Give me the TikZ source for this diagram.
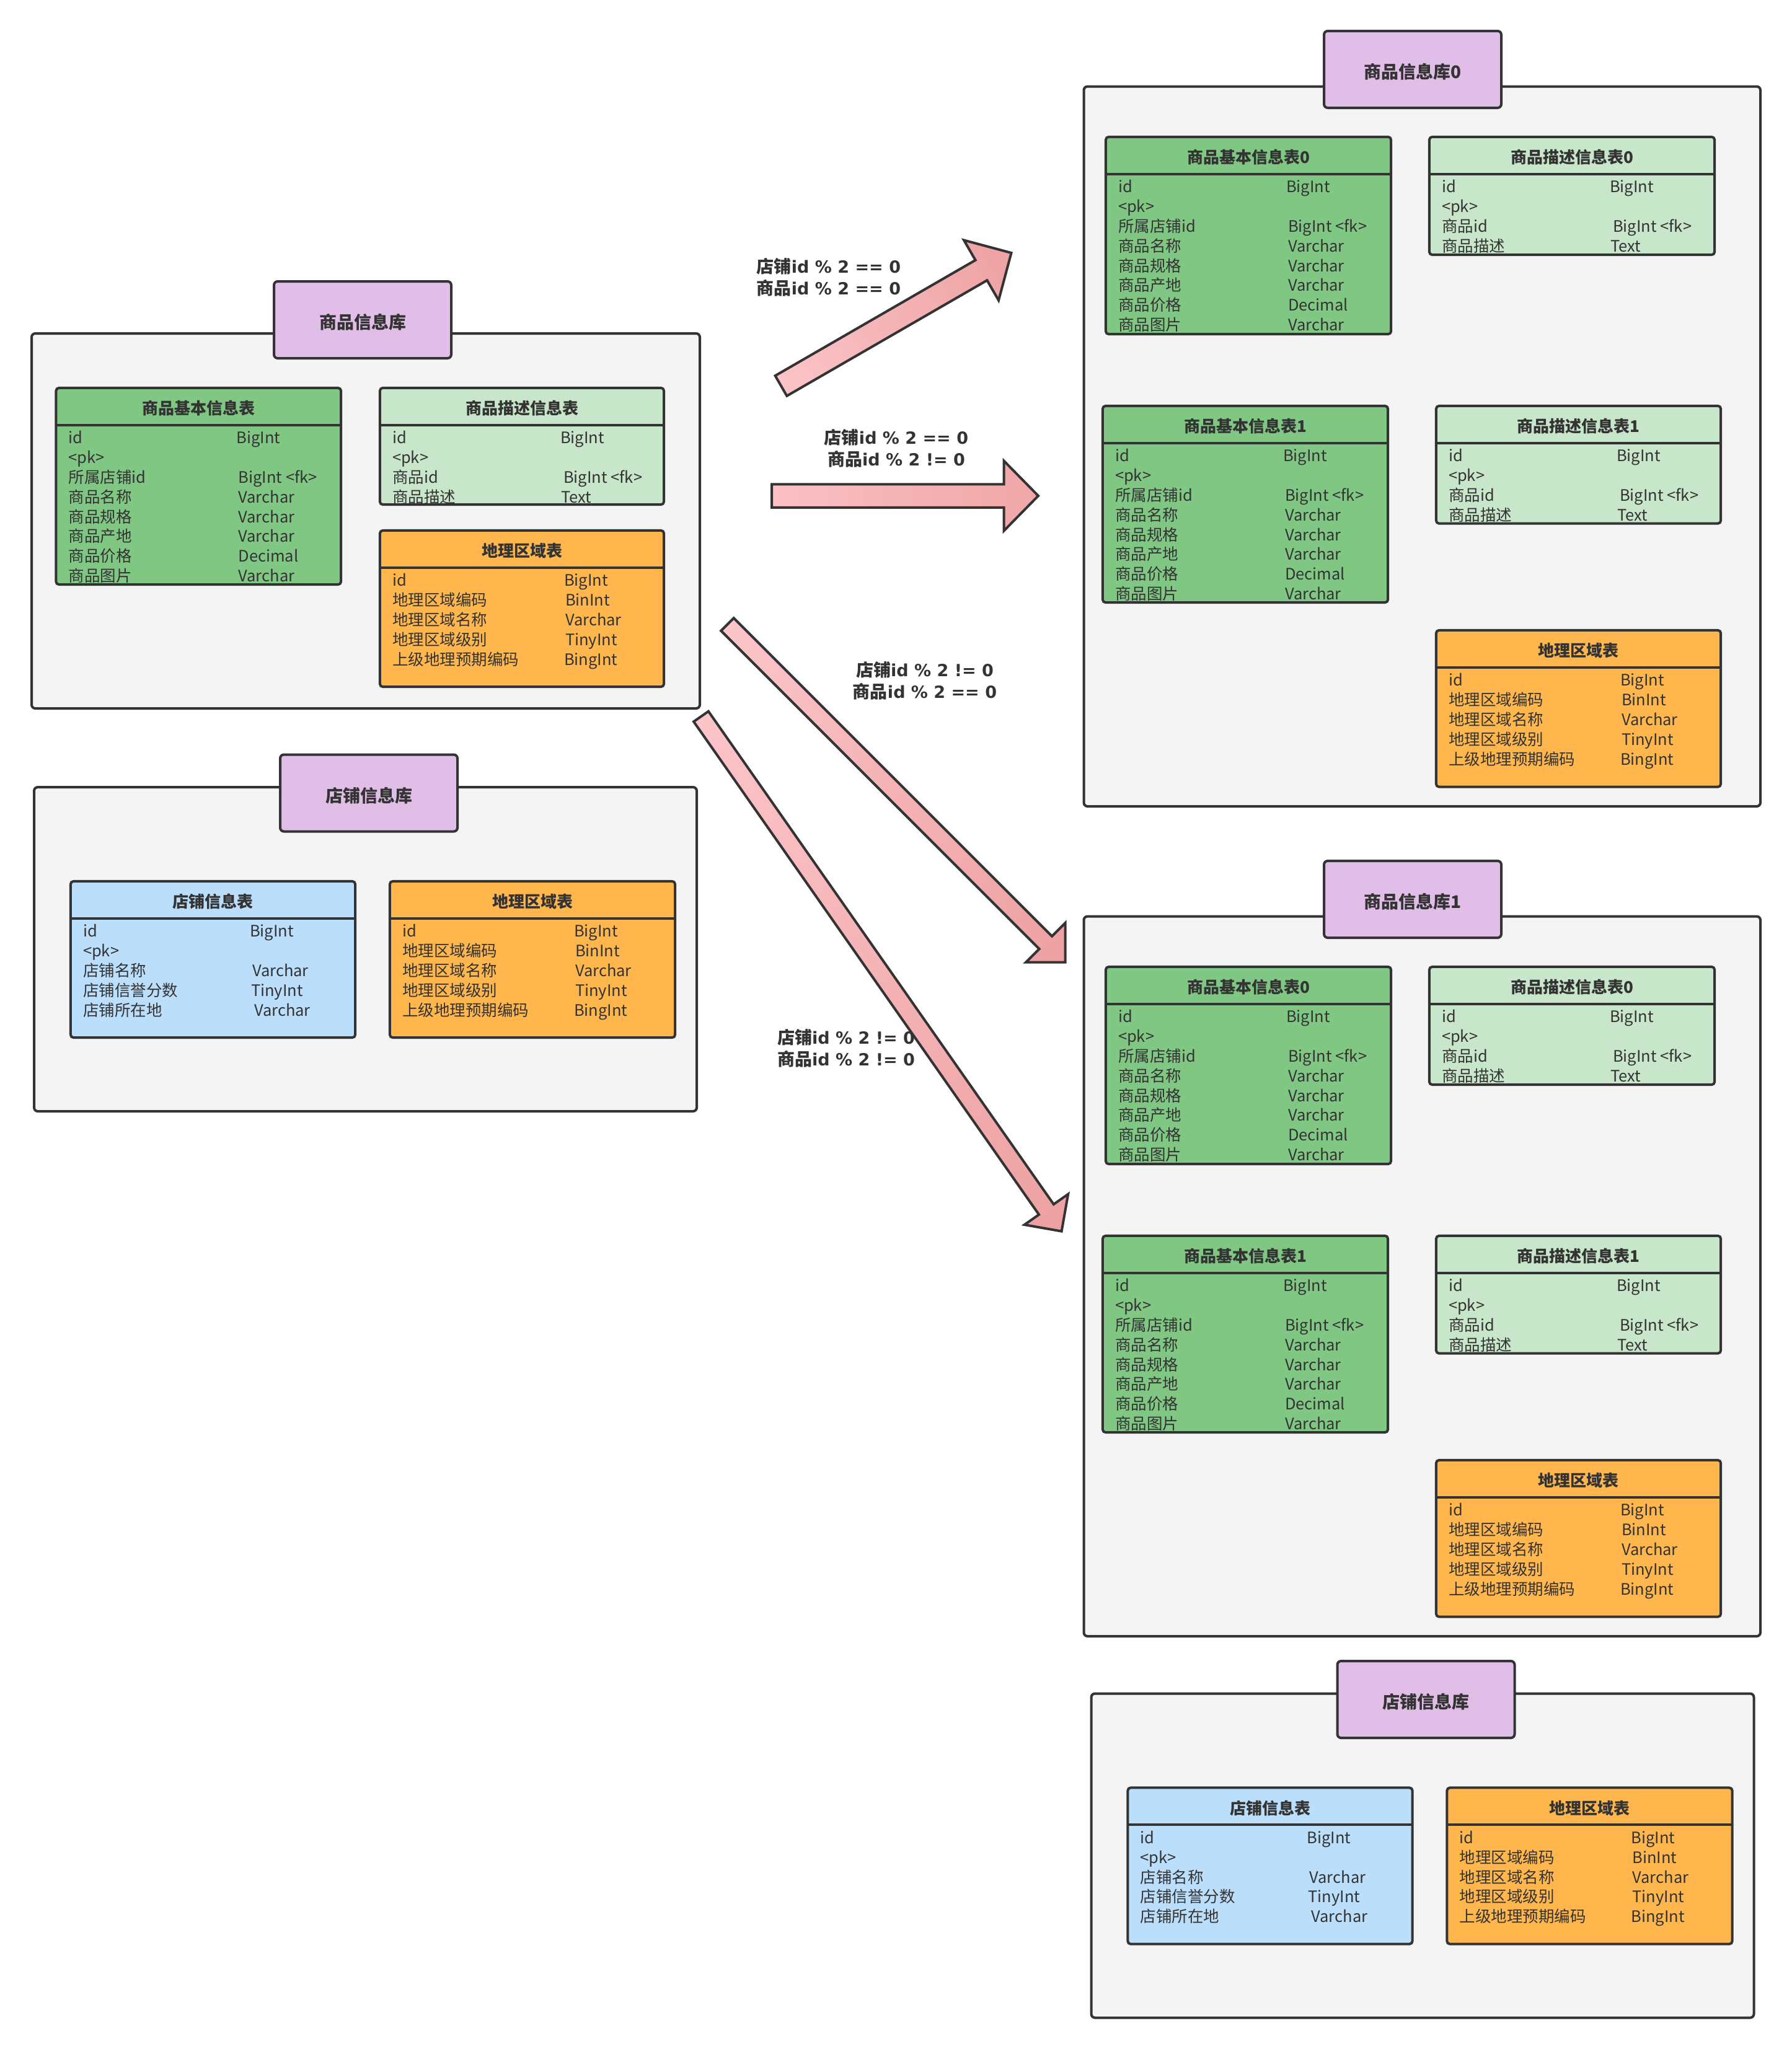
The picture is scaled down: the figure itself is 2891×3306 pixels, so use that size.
\documentclass[tikz,border=0pt]{standalone}
\usepackage{fontspec}
\setmainfont{Noto Sans CJK SC}
\newfontfamily\dvb{DejaVu Sans}
\usetikzlibrary{calc,fit}
\definecolor{ink}{HTML}{333333}
\definecolor{cbg}{HTML}{F4F4F4}
\definecolor{purp}{HTML}{E1BEE7}
\definecolor{grn}{HTML}{81C784}
\definecolor{lgrn}{HTML}{C8E6C9}
\definecolor{org}{HTML}{FFB74D}
\definecolor{blu}{HTML}{BBDEFB}
\definecolor{arrA}{HTML}{FFCDD2}
\definecolor{arrB}{HTML}{EA9999}
\pgfdeclarehorizontalshading{pinkgrad}{100bp}{color(0bp)=(arrA); color(100bp)=(arrB)}
\tikzset{
  container/.style={draw=ink, line width=4pt, fill=cbg, rounded corners=6pt, inner sep=0pt},
  titlebox/.style={draw=ink, line width=4pt, fill=purp, rounded corners=6pt, inner sep=0pt,
    minimum width=286pt, minimum height=124pt, font=\fontsize{28}{32}\selectfont\bfseries, text=ink,
    text height=32.6pt, text depth=3.4pt},
  tabfill/.style={fill=#1, rounded corners=5pt, inner sep=0pt},
  tabline/.style={draw=ink, line width=4pt, rounded corners=5pt},
  sepline/.style={draw=ink, line width=4pt},
  hdrtxt/.style={font=\fontsize{26}{30}\selectfont\bfseries, text=ink, inner sep=0pt, text height=22.9pt, text depth=3.1pt},
  rowtxt/.style={font=\fontsize{25.5}{30}\selectfont, text=ink, inner sep=0pt, anchor=west, text height=22.4pt, text depth=3.1pt},
  lbl/.style={font=\fontsize{28}{35}\selectfont\bfseries, text=ink, align=center, inner sep=0pt},
  blockarr/.style={draw=ink, line width=4pt, line join=miter, shading=pinkgrad},
}
% #1 name, #2 x0, #3 y0, #4 x1, #5 y1, #6 fill, #7 title, #8 row-list macro
\newcommand\dbtab[8]{%
  \node[tabfill=#6, fit={(#2,#3) (#4,#5)}] (#1) {};
  \begin{scope}
    \clip[rounded corners=5pt] (#1.north west) rectangle (#1.south east);
    \node[hdrtxt] (#1h) at ($(#1.north)+(0,33)$) {#7};
    \foreach \nm/\tp/\dx [count=\i] in #8 {
      \node[rowtxt] (#1n\i) at ($(#1.north west)+(20,{80.5+31.8*(\i-1)})$) {\nm};
      \node[rowtxt] (#1t\i) at ($(#1.north west)+(\dx,{80.5+31.8*(\i-1)})$) {\tp};
    }
  \end{scope}
  \draw[sepline] ($(#1.north west)+(0,60)$) -- ($(#1.north east)+(0,60)$);
  \draw[tabline] (#1.north west) rectangle (#1.south east);
}
% #1 name, #2 tail, #3 angle, #4 length, #5 shaft half width, #6 head half width, #7 head length
\newcommand\blockarrow[7]{%
  \coordinate (#1) at #2;
  \begin{scope}[shift={(#1)}, rotate=#3]
    \draw[blockarr, shading angle=#3] (0,#5) -- ({#4-#7},#5) -- ({#4-#7},#6) -- (#4,0)
      -- ({#4-#7},-#6) -- ({#4-#7},-#5) -- (0,-#5) -- cycle;
  \end{scope}}
\newcommand\lb[2]{#1{\dvb\fontsize{27}{35}\selectfont #2}}
\def\Grows{id/BigInt/291, <pk>/\relax/294, 所属店铺id/BigInt <fk>/294, 商品名称/Varchar/294, 商品规格/Varchar/294, 商品产地/Varchar/294, 商品价格/Decimal/294, 商品图片/Varchar/294}
\def\Drows{id/BigInt/291, <pk>/\relax/295, 商品id/BigInt <fk>/296, 商品描述/Text/292}
\def\Orows{id/BigInt/297, 地理区域编码/BinInt/299, 地理区域名称/Varchar/299, 地理区域级别/TinyInt/299, 上级地理预期编码/BingInt/297}
\def\Srows{id/BigInt/289, <pk>/\relax/293, 店铺名称/Varchar/293, 店铺信誉分数/TinyInt/291, 店铺所在地/Varchar/296}
\begin{document}
\begin{tikzpicture}[x=1pt, y=-1pt]
\useasboundingbox (0,0) rectangle (2891,3306);
\fill[white] (0,0) rectangle (2891,3306);

% ---- left: 商品信息库
\node[container, fit={(51,538) (1129,1143)}] (lc) {};
\node[titlebox] (lct) at (585,516) {商品信息库};
\dbtab{lg}{90.5}{626}{550}{943}{grn}{商品基本信息表}{\Grows}
\dbtab{ld}{613}{626}{1071}{814}{lgrn}{商品描述信息表}{\Drows}
\dbtab{lo}{613}{856}{1071}{1108}{org}{地理区域表}{\Orows}

% ---- left: 店铺信息库
\node[container, fit={(55,1270) (1124,1793)}] (sc) {};
\node[titlebox] (sct) at (595,1279.5) {店铺信息库};
\dbtab{ss}{114}{1422}{573}{1674}{blu}{店铺信息表}{\Srows}
\dbtab{so}{629}{1422}{1089}{1674}{org}{地理区域表}{\Orows}

% ---- right: 商品信息库0
\node[container, fit={(1748.5,139.5) (2840,1301)}] (r0c) {};
\node[titlebox] (r0t) at (2279,112) {商品信息库0};
\dbtab{r0ga}{1784}{221}{2244}{539}{grn}{商品基本信息表0}{\Grows}
\dbtab{r0da}{2306}{221}{2766}{411}{lgrn}{商品描述信息表0}{\Drows}
\dbtab{r0gb}{1779}{655}{2239}{972}{grn}{商品基本信息表1}{\Grows}
\dbtab{r0db}{2317}{655}{2776}{844.5}{lgrn}{商品描述信息表1}{\Drows}
\dbtab{r0o}{2317}{1017}{2776}{1269.5}{org}{地理区域表}{\Orows}

% ---- right: 商品信息库1
\node[container, fit={(1748.5,1478.5) (2840,2640)}] (r1c) {};
\node[titlebox] (r1t) at (2279,1451) {商品信息库1};
\dbtab{r1ga}{1784}{1560}{2244}{1878}{grn}{商品基本信息表0}{\Grows}
\dbtab{r1da}{2306}{1560}{2766}{1750}{lgrn}{商品描述信息表0}{\Drows}
\dbtab{r1gb}{1779}{1994}{2239}{2311}{grn}{商品基本信息表1}{\Grows}
\dbtab{r1db}{2317}{1994}{2776}{2183.5}{lgrn}{商品描述信息表1}{\Drows}
\dbtab{r1o}{2317}{2356}{2776}{2608.5}{org}{地理区域表}{\Orows}

% ---- right: 店铺信息库
\node[container, fit={(1760.5,2732.5) (2829.5,3255.5)}] (rsc) {};
\node[titlebox] (rst) at (2300.5,2742) {店铺信息库};
\dbtab{rss}{1819.5}{2884.5}{2278.5}{3136.5}{blu}{店铺信息表}{\Srows}
\dbtab{rso}{2334.5}{2884.5}{2794.5}{3136.5}{org}{地理区域表}{\Orows}

% ---- labels
\node[lbl] (lab1) at (1337,447.5) {\lb{店铺}{id \% 2 == 0}\\\lb{商品}{id \% 2 == 0}};
\node[lbl] (lab2) at (1446,723) {\lb{店铺}{id \% 2 == 0}\\\lb{商品}{id \% 2 != 0}};
\node[lbl] (lab3) at (1492,1098) {\lb{店铺}{id \% 2 != 0}\\\lb{商品}{id \% 2 == 0}};
\node[lbl] (lab4) at (1365,1691.5) {\lb{店铺}{id \% 2 != 0}\\\lb{商品}{id \% 2 != 0}};

% ---- block arrows
\blockarrow{arr1}{(1260,622.5)}{30}{429}{18.8}{56}{56}
\blockarrow{arr2}{(1245,800)}{0}{430}{18.75}{56.5}{55.5}
\blockarrow{arr3}{(1173.5,1007.5)}{-45}{771}{14.5}{45}{45}
\blockarrow{arr4}{(1131,1156)}{-55}{1014}{14.5}{43}{43}
\end{tikzpicture}
\end{document}
